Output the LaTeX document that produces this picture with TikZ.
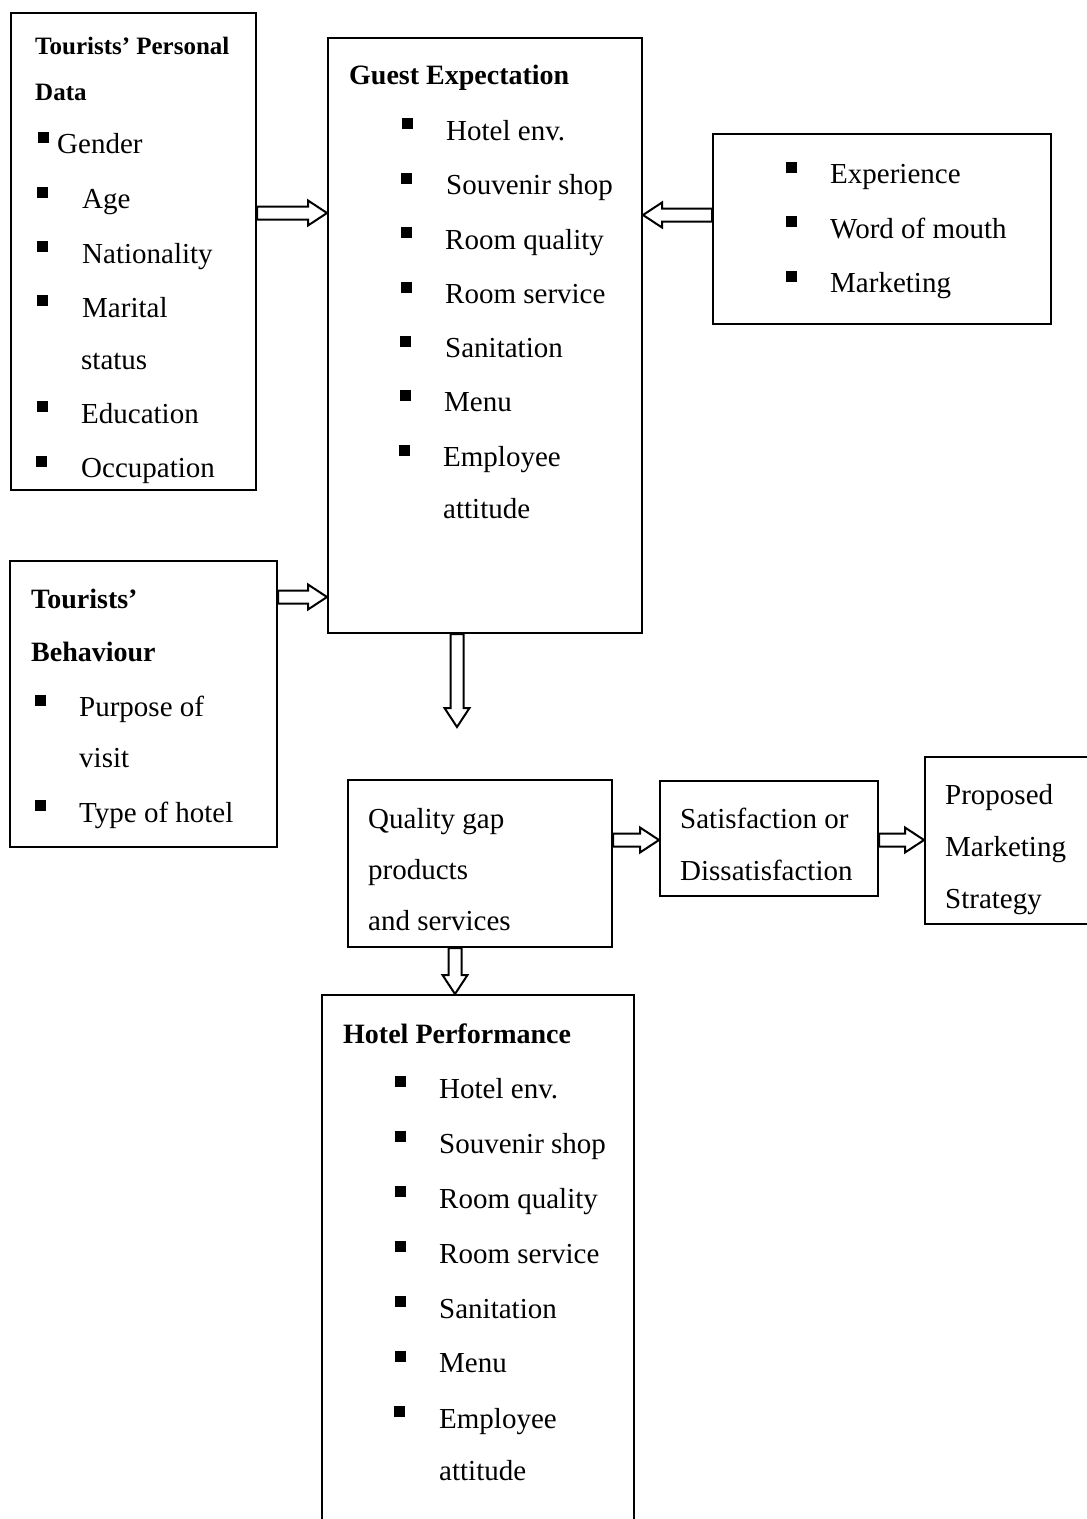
\documentclass[tikz,border=0pt]{standalone}
\usepackage{fontspec}
\setmainfont{Liberation Serif}
\usetikzlibrary{calc}

\tikzset{
  box/.style={draw, line width=2pt, anchor=north west, inner sep=0pt},
  item/.style={anchor=base west, inner sep=0pt, font=\fontsize{29}{35}\selectfont},
  head/.style={anchor=base west, inner sep=0pt, font=\fontsize{28}{34}\selectfont\bfseries},
  sq/.style={fill=black, minimum size=11pt, inner sep=0pt},
  hollow/.style={line width=2pt, line join=miter, to path={
      ($(\tikztostart)!6.5pt!90:(\tikztotarget)$)
      -- ($(\tikztotarget)!19pt!(\tikztostart)!6.5pt!-90:(\tikztostart)$)
      -- ($(\tikztotarget)!19pt!(\tikztostart)!12.5pt!-90:(\tikztostart)$)
      -- (\tikztotarget)
      -- ($(\tikztotarget)!19pt!(\tikztostart)!12.5pt!90:(\tikztostart)$)
      -- ($(\tikztotarget)!19pt!(\tikztostart)!6.5pt!90:(\tikztostart)$)
      -- ($(\tikztostart)!6.5pt!-90:(\tikztotarget)$)
      -- cycle}}
}

\begin{document}
\begin{tikzpicture}[x=1pt, y=-1pt]
    \clip (0,0) rectangle (1087,1519);
    % boxes
    \node[box, minimum width=245pt, minimum height=477pt] (pdata) at (10,12) {};
    \node[box, minimum width=314pt, minimum height=595pt] (guest) at (327,37) {};
    \node[box, minimum width=338pt, minimum height=190pt] (expr) at (712,133) {};
    \node[box, minimum width=267pt, minimum height=286pt] (behav) at (9,560) {};
    \node[box, minimum width=264pt, minimum height=167pt] (gap) at (347,779) {};
    \node[box, minimum width=218pt, minimum height=115pt] (satis) at (659,780) {};
    \node[box, minimum width=180pt, minimum height=167pt] (prop) at (924,756) {};
    \node[box, minimum width=312pt, minimum height=540pt] (perf) at (321,994) {};

    % tourists' personal data
    \node[head, font=\fontsize{25}{30}\selectfont\bfseries] (pd1) at (35,54) {Tourists’ Personal};
    \node[head, font=\fontsize{25}{30}\selectfont\bfseries] (pd2) at (35,100) {Data};
    \node[sq] (pdb1) at (43,137) {};
    \node[item] (pd3) at (57,153) {Gender};
    \node[sq] (pdb2) at (42,192) {};
    \node[item] (pd4) at (82,208) {Age};
    \node[sq] (pdb3) at (42,246) {};
    \node[item] (pd5) at (82,263) {Nationality};
    \node[sq] (pdb4) at (42,300) {};
    \node[item] (pd6) at (82,317) {Marital};
    \node[item] (pd7) at (81,369) {status};
    \node[sq] (pdb5) at (42,406) {};
    \node[item] (pd8) at (81,423) {Education};
    \node[sq] (pdb6) at (41,461) {};
    \node[item] (pd9) at (81,477) {Occupation};

    % guest expectation
    \node[head] (ge0) at (349,84) {Guest Expectation};
    \node[sq] (geb1) at (407,123) {};
    \node[item] (ge1) at (446,140) {Hotel env.};
    \node[sq] (geb2) at (406,178) {};
    \node[item] (ge2) at (446,194) {Souvenir shop};
    \node[sq] (geb3) at (406,232) {};
    \node[item] (ge3) at (445,249) {Room quality};
    \node[sq] (geb4) at (406,287) {};
    \node[item] (ge4) at (445,303) {Room service};
    \node[sq] (geb5) at (405,341) {};
    \node[item] (ge5) at (445,357) {Sanitation};
    \node[sq] (geb6) at (405,395) {};
    \node[item] (ge6) at (444,411) {Menu};
    \node[sq] (geb7) at (404,450) {};
    \node[item] (ge7) at (443,466) {Employee};
    \node[item] (ge8) at (443,518) {attitude};

    % sources of expectation
    \node[sq] (exb1) at (791,167) {};
    \node[item] (ex1) at (830,183) {Experience};
    \node[sq] (exb2) at (791,221) {};
    \node[item] (ex2) at (830,238) {Word of mouth};
    \node[sq] (exb3) at (791,276) {};
    \node[item] (ex3) at (830,292) {Marketing};

    % tourists' behaviour
    \node[head] (tb1) at (31,608) {Tourists’};
    \node[head] (tb2) at (31,661) {Behaviour};
    \node[sq] (tbb1) at (40,700) {};
    \node[item] (tb3) at (79,716) {Purpose of};
    \node[item] (tb4) at (79,767) {visit};
    \node[sq] (tbb2) at (40,805) {};
    \node[item] (tb5) at (79,822) {Type of hotel};

    % gap, satisfaction, strategy
    \node[item] (qg1) at (368,828) {Quality gap};
    \node[item] (qg2) at (368,879) {products};
    \node[item] (qg3) at (368,930) {and services};
    \node[item] (sd1) at (680,828) {Satisfaction or};
    \node[item] (sd2) at (680,880) {Dissatisfaction};
    \node[item] (pm1) at (945,804) {Proposed};
    \node[item] (pm2) at (945,856) {Marketing};
    \node[item] (pm3) at (945,908) {Strategy};

    % hotel performance
    \node[head] (hp0) at (343,1043) {Hotel Performance};
    \node[sq] (hpb1) at (400,1081) {};
    \node[item] (hp1) at (439,1098) {Hotel env.};
    \node[sq] (hpb2) at (400,1136) {};
    \node[item] (hp2) at (439,1153) {Souvenir shop};
    \node[sq] (hpb3) at (400,1191) {};
    \node[item] (hp3) at (439,1208) {Room quality};
    \node[sq] (hpb4) at (400,1246) {};
    \node[item] (hp4) at (439,1263) {Room service};
    \node[sq] (hpb5) at (400,1301) {};
    \node[item] (hp5) at (439,1318) {Sanitation};
    \node[sq] (hpb6) at (400,1356) {};
    \node[item] (hp6) at (439,1372) {Menu};
    \node[sq] (hpb7) at (399,1411) {};
    \node[item] (hp7) at (439,1428) {Employee};
    \node[item] (hp8) at (439,1480) {attitude};

    % arrows
    \coordinate (gedown) at (457,727);
    \coordinate (gapdown) at (455,0);
    \draw[hollow] (pdata.east |- 0,213) to (guest.west |- 0,213);
    \draw[hollow] (behav.east |- 0,597) to (guest.west |- 0,597);
    \draw[hollow] (expr.west |- 0,215) to (guest.east |- 0,215);
    \draw[hollow] (guest.south -| gedown) to (gedown);
    \draw[hollow] (gap.east |- 0,840) to (satis.west |- 0,840);
    \draw[hollow] (satis.east |- 0,840) to (prop.west |- 0,840);
    \draw[hollow] (gap.south -| gapdown) to (perf.north -| gapdown);
\end{tikzpicture}
\end{document}
